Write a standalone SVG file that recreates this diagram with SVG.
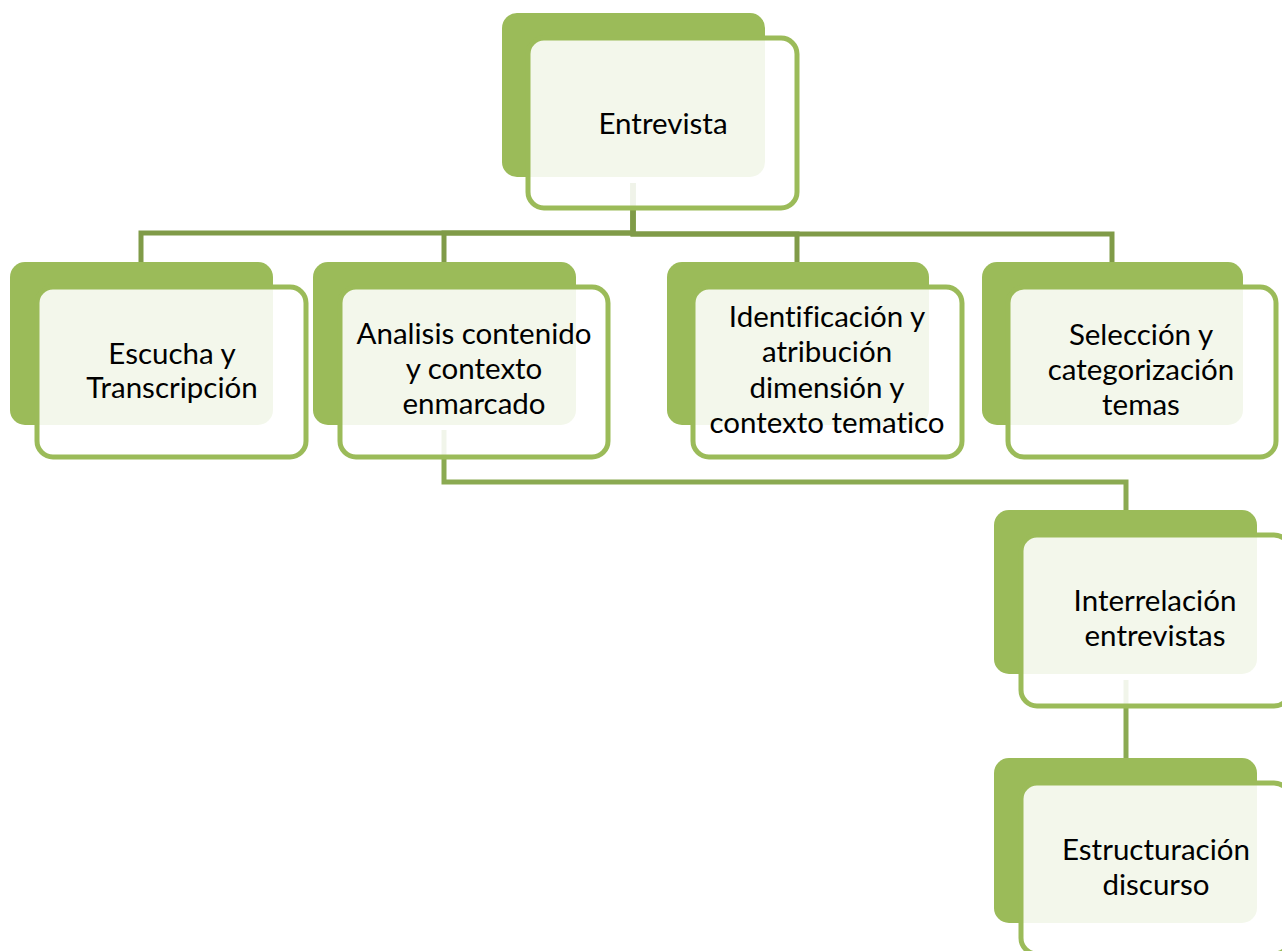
<svg xmlns="http://www.w3.org/2000/svg" width="1282" height="951" viewBox="0 0 1282 951">
<style>
.back{fill:#9BBB59;}
.front{fill:#FFFFFF;fill-opacity:0.88;stroke:#9BBB59;stroke-width:5;}
.conn{fill:none;stroke:#809B48;stroke-width:5;}
.conn2{fill:none;stroke:#8BAA52;stroke-width:5;}
text{font-family:Lato,"Liberation Sans",sans-serif;font-size:29.5px;fill:#000000;text-anchor:middle;font-variant-ligatures:none;}
</style>
<rect width="1282" height="951" fill="#FFFFFF"/>
<g id="connectors">
<path class="conn" d="M633,183 V233 H141 V262"/>
<path class="conn" d="M633,183 V233 H444 V262"/>
<path class="conn" d="M633,183 V234 H797 V262"/>
<path class="conn" d="M633,183 V234 H1112 V262"/>
<path class="conn2" d="M444,430 V482 H1126 V510"/>
<path class="conn2" d="M1126,680 V758"/>
</g>
<g id="node-entrevista">
<rect class="back" x="502" y="13" width="263" height="164" rx="15"/>
<rect class="front" x="528" y="38" width="269" height="170" rx="16"/>
<text x="663" y="134">Entrevista</text>
</g>
<g id="node-escucha">
<rect class="back" x="10" y="262" width="263" height="163" rx="15"/>
<rect class="front" x="37" y="287" width="269" height="170" rx="16"/>
<text x="172" y="364">Escucha y</text>
<text x="172" y="398">Transcripción</text>
</g>
<g id="node-analisis">
<rect class="back" x="313" y="262" width="263" height="163" rx="15"/>
<rect class="front" x="340" y="287" width="268" height="170" rx="16"/>
<text x="474" y="344">Analisis contenido</text>
<text x="474" y="379">y contexto</text>
<text x="474" y="414">enmarcado</text>
</g>
<g id="node-identificacion">
<rect class="back" x="667" y="262" width="262" height="163" rx="15"/>
<rect class="front" x="693" y="287" width="269" height="170" rx="16"/>
<text x="827" y="327">Identificación y</text>
<text x="827" y="362">atribución</text>
<text x="827" y="398">dimensión y</text>
<text x="827" y="433">contexto tematico</text>
</g>
<g id="node-seleccion">
<rect class="back" x="982" y="262" width="261" height="163" rx="15"/>
<rect class="front" x="1008" y="287" width="268" height="170" rx="16"/>
<text x="1141" y="345">Selección y</text>
<text x="1141" y="380">categorización</text>
<text x="1141" y="415">temas</text>
</g>
<g id="node-interrelacion">
<rect class="back" x="994" y="510" width="263" height="164" rx="15"/>
<rect class="front" x="1021" y="535" width="269" height="171" rx="16"/>
<text x="1155" y="611">Interrelación</text>
<text x="1155" y="646">entrevistas</text>
</g>
<g id="node-estructuracion">
<rect class="back" x="994" y="758" width="263" height="165" rx="15"/>
<rect class="front" x="1021" y="783" width="269" height="171" rx="16"/>
<text x="1156" y="860">Estructuración</text>
<text x="1156" y="895">discurso</text>
</g>
</svg>
